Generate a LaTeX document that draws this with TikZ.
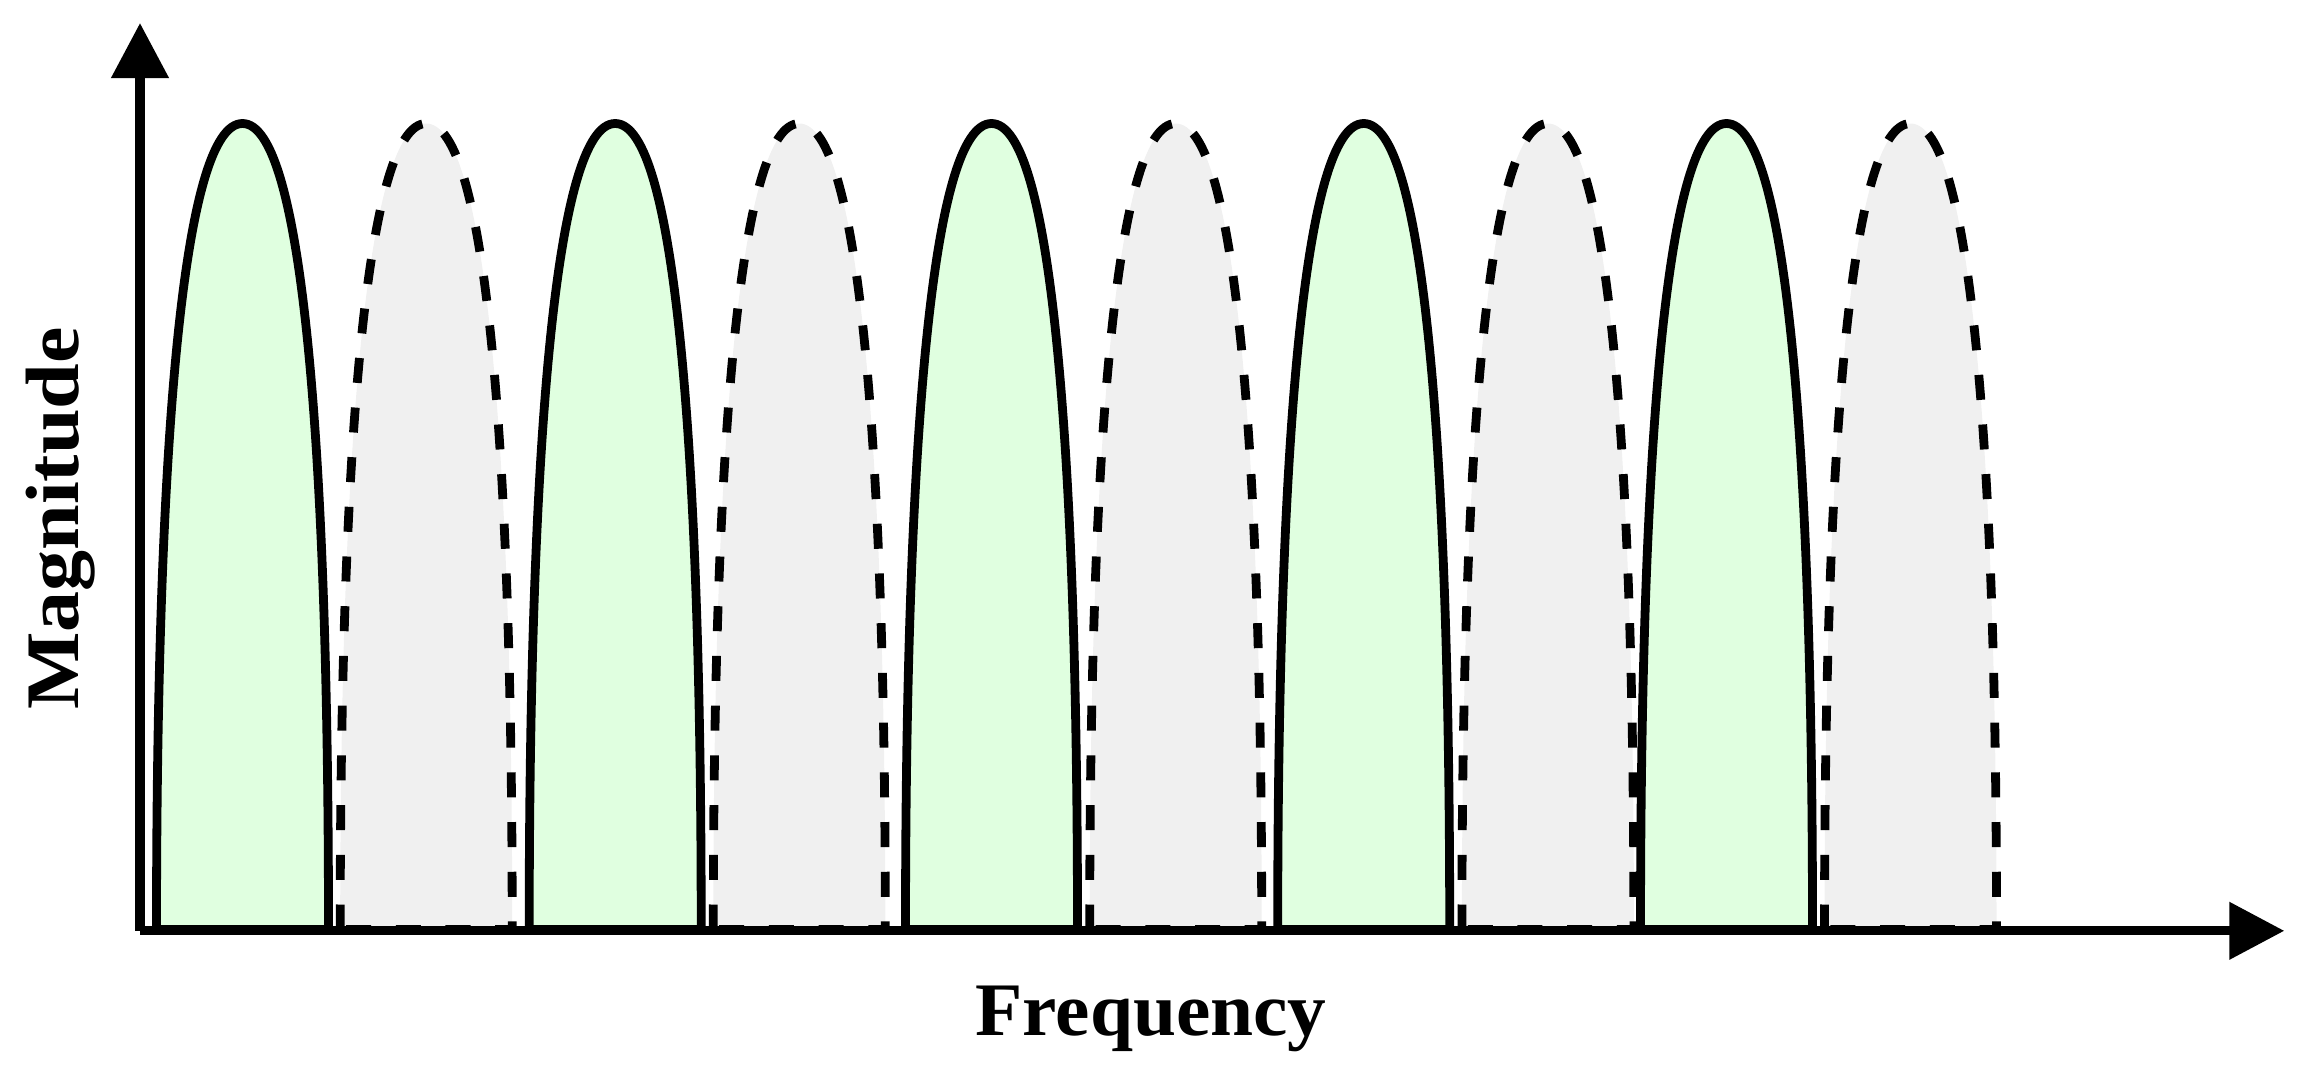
\documentclass[tikz,border=0pt]{standalone}
\usepackage{fontspec}
\usepackage{graphicx}
\setmainfont{Liberation Serif}
\usetikzlibrary{arrows.meta}
\definecolor{lobegreen}{RGB}{224,255,224}
\definecolor{lobegray}{RGB}{240,240,240}
\tikzset{
  lobeline/.style={line width=0.088cm, draw=black, line join=miter},
  greenlobe/.style={lobeline, fill=lobegreen},
  graylobe/.style={lobeline, fill=lobegray, dash pattern=on 0.25cm off 0.247cm},
  axisline/.style={line width=0.09cm, draw=black, -{Triangle[length=0.55cm,width=0.556cm]}},
  axislabel/.style={font=\fontsize{21.5pt}{25pt}\selectfont\bfseries, inner sep=0pt, anchor=base}
}
\begin{document}
\begin{tikzpicture}[x=0.01cm,y=-0.01cm]
\useasboundingbox (0,0) rectangle (2309,1078);
% green (solid) lobes
\foreach \c in {242.5,615.2,991.5,1363.7,1726.5}{
  \path[greenlobe] (\c-86,929.5) .. controls (\c-86,446) and (\c-60,123.5) .. (\c,123.5)
     .. controls (\c+60,123.5) and (\c+86,446) .. (\c+86,929.5) -- cycle;
}
% gray (dashed) lobes
\foreach \c in {426.2,799.3,1175.7,1547.9,1910.5}{
  \path[graylobe] (\c-86,929.5) .. controls (\c-86,446) and (\c-60,123.5) .. (\c,123.5)
     .. controls (\c+60,123.5) and (\c+86,446) .. (\c+86,929.5) -- cycle;
}
% axes
\coordinate (O) at (140,930.8);
\coordinate (ytip) at (140,23);
\coordinate (xtip) at (2284.3,930.8);
\draw[axisline] (O) -- (ytip);
\draw[axisline] (O) -- (xtip);
% labels
\node[axislabel] (xlabel) at (1151,1035) {\scalebox{1.023}[1]{Frequency}};
\node[axislabel, rotate=90] (ylabel) at (78,518.5) {\scalebox{1.085}[1]{Magnitude}};
\end{tikzpicture}
\end{document}
